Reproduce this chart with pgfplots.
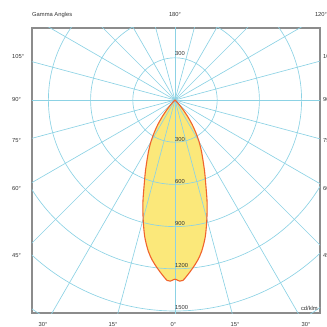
\documentclass[border=0pt]{standalone}
\usepackage{pgfplots}
\pgfplotsset{compat=1.18}
\usepackage{pgfplotstable}
\usepackage{fontspec}
\setmainfont{Liberation Sans}
\definecolor{gridc}{RGB}{140,210,228}
\definecolor{fillc}{RGB}{251,232,122}
\definecolor{linec}{RGB}{240,100,45}
\definecolor{framec}{RGB}{140,140,140}
\definecolor{txt}{RGB}{50,50,50}
\newcommand\lf{\fontsize{5.8}{7}\selectfont}

\pgfplotstableread{
g I
-50 0
-45 8
-42.5 40
-40 90
-37.5 148
-35 212
-32.5 276
-30 342
-27.5 405
-25 470
-22.5 550
-20 640
-17.5 758
-15 875
-12.5 995
-10 1092
-8 1152
-6 1202
-4 1250
-2.5 1284
-1.5 1288
-0.5 1278
0 1274
0.5 1278
1.5 1288
2.5 1284
4 1250
6 1202
8 1152
10 1092
12.5 995
15 875
17.5 758
20 640
22.5 550
25 470
27.5 405
30 342
32.5 276
35 212
37.5 148
40 90
42.5 40
45 8
50 0
}\lumdata

\begin{document}
\begin{tikzpicture}[x=1pt,y=1pt]
\begin{axis}[
  at={(0,0)}, anchor=south west, scale only axis,
  width=288pt, height=285pt,
  xmin=-1016.6, xmax=1030.8, ymin=-1514.2, ymax=511.8,
  axis line style={framec, line width=1.3pt},
  ticks=none, clip=true,
]
\addplot[data cs=polar, smooth, fill=fillc, draw=none] table[x expr=\thisrow{g}+270, y=I]{\lumdata} -- cycle;
\pgfplotsinvokeforeach{300,600,...,2100}{
  \draw[gridc, line width=0.65pt] (axis cs:0,0) circle[radius=#1];
}
\pgfplotsinvokeforeach{0,15,...,345}{
  \draw[gridc, line width=0.65pt] (axis cs:0,0) -- (axis cs:{3000*cos(#1)},{3000*sin(#1)});
}
\addplot[data cs=polar, smooth, draw=linec, line width=1.1pt] table[x expr=\thisrow{g}+270, y=I]{\lumdata};
\node[anchor=west, inner sep=0pt, text=txt, font=\lf, yshift=4.5pt] at (axis cs:0,300) {300};
\pgfplotsinvokeforeach{300,600,900,1200,1500}{
  \node[anchor=west, inner sep=0pt, text=txt, font=\lf, yshift=3pt] at (axis cs:0,-#1) {#1};
}
\end{axis}
% outer labels (x = X-32, y = 313-Y)
\node[anchor=west, inner sep=0pt, text=txt, font=\lf] at (0,298) {Gamma Angles};
\node[inner sep=0pt, text=txt, font=\lf] at (143,298) {180°};
\node[inner sep=0pt, text=txt, font=\lf] at (289,298) {120°};
\foreach \t/\yy in {105°/256, 90°/213, 75°/172, 60°/124, 45°/57}{
  \node[anchor=west, inner sep=0pt, text=txt, font=\lf] at (-20,\yy) {\t};
  \node[anchor=west, inner sep=0pt, text=txt, font=\lf] at (291,\yy) {\t};
}
\foreach \t/\xx in {30°/11, 15°/81, 0°/141.5, 15°/203, 30°/274}{
  \node[anchor=north, inner sep=0pt, text=txt, font=\lf] at (\xx,-9) {\t};
}
\node[anchor=south east, inner sep=0pt, text=txt, font=\lf] at (286,2) {cd/klm};
\pgfresetboundingbox
\path (-32,-14) rectangle (295,313);
\end{tikzpicture}
\end{document}
